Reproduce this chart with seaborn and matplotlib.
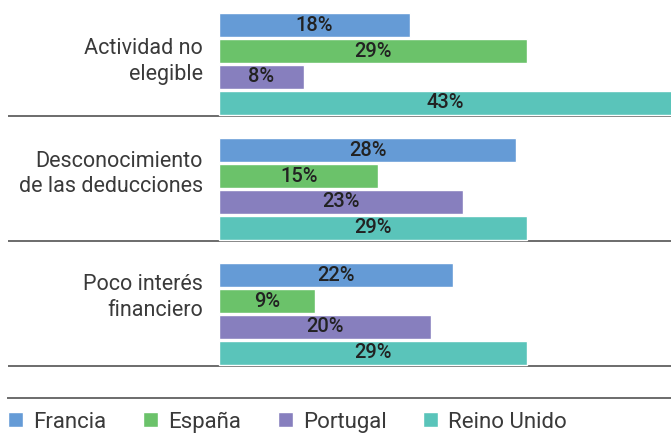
import pandas as pd
import seaborn as sns
import matplotlib.pyplot as plt
from matplotlib.patches import Patch

# Data
categories = ['Actividad no\nelegible', 'Desconocimiento\nde las deducciones', 'Poco interés\nfinanciero']
countries = ['Francia', 'España', 'Portugal', 'Reino Unido']
francia = [18, 28, 22]
espana = [29, 15, 9]
portugal = [8, 23, 20]
reino_unido = [43, 29, 29]

colors = ['#659bd6', '#6bc26a', '#877fbe', '#5ac4ba']

rows = []
for country, vals in zip(countries, [francia, espana, portugal, reino_unido]):
    for cat, v in zip(categories, vals):
        rows.append({'cat': cat, 'country': country, 'value': v})
df = pd.DataFrame(rows)

sns.set_style('white')
plt.rcParams['font.family'] = ['Roboto', 'DejaVu Sans']

W, H = 671, 434
fig = plt.figure(figsize=(W / 100, H / 100), dpi=100)
# axes spans from x=8px to right edge, y from top down to 398px
ax = fig.add_axes([8 / W, (H - 398) / H, 1 - 8 / W, 398 / H])

sns.barplot(data=df, y='cat', x='value', hue='country', hue_order=countries,
            order=categories, palette=colors, orient='h', width=0.83, gap=0.1,
            saturation=1, ax=ax, legend=False)

px = 10.62  # pixels per percent
ax.set_xlim(-(219 - 8) / px, (671 - 219) / px)
ax.set_ylim((398 - 64) / 125, -64 / 125)

for cont in ax.containers:
    ax.bar_label(cont, labels=[f'{int(v)}%' for v in cont.datavalues],
                 label_type='center', fontsize=14.5, fontweight='medium', color='#222222')

# category labels
shift = [-0.02, -0.12, -0.13]
for i, cat in enumerate(categories):
    ax.text(-1.5, i + shift[i], cat, ha='right', va='center', fontsize=15.5,
            color='#3a3a3a', linespacing=1.3, multialignment='right')

# separators under each group
for i in range(len(categories)):
    ax.axhline(i + 0.415, color='#6b6b6b', lw=1.4, zorder=0)

ax.set_xticks([])
ax.set_yticks([])
ax.set_xlabel('')
ax.set_ylabel('')
for s in ['top', 'left', 'right']:
    ax.spines[s].set_visible(False)
ax.spines['bottom'].set_color('#6b6b6b')
ax.spines['bottom'].set_linewidth(1.4)

handles = [Patch(facecolor=c, label=n) for c, n in zip(colors, countries)]
fig.legend(handles=handles, loc='center left', bbox_to_anchor=(8 / W, (H - 422) / H),
           ncol=4, frameon=False, fontsize=16, handlelength=0.68, handleheight=0.68,
           handletextpad=0.45, columnspacing=1.65, borderaxespad=0, borderpad=0,
           labelcolor='#3a3a3a')

fig.savefig('out.png', dpi=100)
